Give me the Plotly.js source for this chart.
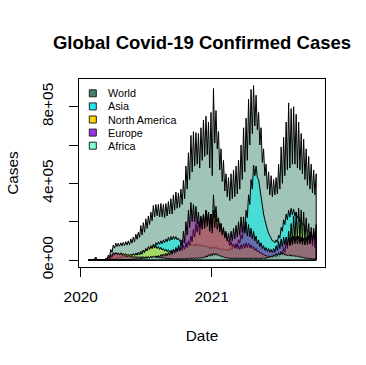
<!DOCTYPE html>
<html><head><meta charset="utf-8">
<script src="https://cdn.plot.ly/plotly-3.0.1.min.js"></script>
<style>html,body{margin:0;padding:0;background:#fff;} #chart{width:366px;height:365px;}</style>
</head><body><div id="chart"></div>
<script>
// Daily confirmed cases (thousands), sampled every 3.5 days from 2020-01-22 (alternating mid-week high / weekend low)
const startDate = '2020-01-22';
const stepDays = 3.5;
const seriesNames = ['World', 'Asia', 'North America', 'Europe', 'Africa'];

const world = [0.5,0.3, 2,1.7, 3.7,3, 15,2.5, 1,0.4, 1.5,1.1, 2.5,2, 8,5, 25,16, 55,40,
  78,62, 88,70, 88,72, 90,74, 92,76, 96,78, 100,80, 110,88, 120,95, 135,108,
  145,118, 180,130, 195,145, 215,165, 230,185, 250,205, 285,225, 290,230, 290,225, 295,225,
  290,220, 295,230, 305,240, 320,240, 340,260, 355,270, 350,275, 370,290, 415,320, 490,370,
  560,420, 650,460, 670,490, 665,500, 660,480, 690,520, 730,540, 750,550, 720,480, 770,440,
  895,610, 780,580, 670,470, 580,410, 520,360, 450,330, 430,310, 450,320, 470,330, 490,345,
  520,370, 600,420, 690,460, 740,520, 840,600, 890,660, 910,700, 860,680, 770,600, 690,510,
  580,440, 500,370, 460,340, 440,330, 420,340, 430,345, 500,370, 590,400, 640,440, 720,470,
  820,480, 790,500, 800,500, 760,480, 720,470, 660,450, 630,420, 580,390, 540,370, 500,350,
  470,340, 450];

const asia = [0.5,0.3, 2,1.7, 3.6,3, 15,2.5, 0.8,0.4, 0.9,0.5, 1.3,1, 1.5,1.2, 3,2.5, 5,4,
  8,7, 11,9, 14,12, 16,14, 18,15, 20,17, 24,20, 28,24, 32,27, 36,30,
  40,34, 45,38, 52,44, 56,48, 62,54, 70,60, 82,70, 90,78, 95,82, 100,85,
  105,90, 110,95, 118,100, 122,105, 125,108, 122,105, 115,100, 105,92, 100,88, 92,82,
  88,78, 85,75, 82,72, 85,74, 82,72, 80,70, 78,68, 75,65, 70,60, 68,58,
  70,60, 68,58, 62,54, 60,52, 58,50, 56,48, 58,50, 65,55, 72,62, 85,72,
  105,88, 130,110, 175,150, 260,220, 340,290, 420,370, 495,440, 490,430, 420,370, 320,280,
  240,210, 180,160, 140,125, 115,100, 100,90, 105,92, 130,115, 170,150, 210,185, 240,210,
  260,225, 270,235, 265,230, 250,220, 230,200, 210,185, 190,165, 170,150, 150,130, 135,118,
  120,105, 110];

const northAmerica = [0,0, 0,0, 0,0, 0,0, 0,0, 0,0, 0.1,0.05, 0.5,0.3, 5,3, 20,14,
  32,26, 38,30, 36,28, 38,28, 35,27, 33,25, 30,24, 30,24, 30,24, 32,25,
  34,26, 40,30, 50,38, 60,48, 70,56, 75,60, 78,62, 75,60, 70,55, 66,52,
  60,46, 56,43, 54,41, 50,38, 55,42, 58,45, 60,46, 65,50, 75,56, 85,65,
  100,75, 125,95, 160,120, 190,145, 200,130, 220,170, 240,185, 260,195, 250,170, 240,160,
  340,220, 280,200, 220,160, 190,140, 160,120, 130,100, 100,75, 95,70, 85,62, 80,58,
  75,55, 80,58, 85,62, 90,65, 88,62, 80,58, 70,50, 60,42, 50,35, 40,28,
  32,22, 25,16, 22,14, 20,12, 20,12, 22,12, 30,15, 45,25, 65,40, 95,60,
  150,80, 190,90, 230,100, 250,105, 270,100, 260,95, 250,100, 220,95, 190,85, 170,75,
  150,65, 140];

const europe = [0,0, 0,0, 0,0, 0,0, 0,0, 0.3,0.1, 1,0.6, 5,3, 15,10, 30,22,
  38,30, 38,30, 35,27, 33,25, 28,22, 25,18, 22,16, 20,15, 18,14, 18,13,
  17,13, 17,13, 17,13, 17,13, 17,12, 18,13, 20,14, 22,15, 24,16, 28,18,
  32,20, 35,22, 40,25, 48,30, 55,35, 65,42, 75,50, 100,65, 150,95, 200,130,
  260,170, 300,200, 290,200, 280,190, 250,170, 230,160, 240,165, 260,175, 250,150, 240,140,
  260,170, 240,160, 210,145, 190,130, 170,115, 150,100, 140,95, 150,100, 165,110, 180,120,
  200,130, 225,145, 225,140, 200,125, 185,120, 165,110, 150,100, 125,85, 105,70, 90,60,
  75,50, 65,45, 60,40, 55,38, 60,40, 75,50, 95,60, 110,70, 120,80, 120,80,
  115,75, 120,80, 125,85, 125,85, 125,85, 120,80, 115,78, 120,80, 130,85, 145,95,
  165,105, 185];

const africa = [0,0, 0,0, 0,0, 0,0, 0,0, 0,0, 0,0, 0,0, 0.1,0.05, 0.4,0.2,
  0.6,0.4, 0.8,0.5, 1,0.7, 1.3,0.9, 1.8,1.2, 2.5,1.8, 3,2.2, 3.8,2.8, 4.5,3.5, 6,4.5,
  7,5, 9,6.5, 10,7.5, 12,9, 15,11, 17,13, 19,14, 17,13, 15,11, 13,9,
  11,8, 9,7, 8,6, 7,5, 6.5,4.5, 6,4.5, 6,4.5, 6.5,4.5, 7,5, 8,5.5,
  9,6, 10,7, 11,7.5, 12,8, 12,8, 13,9, 16,11, 22,15, 28,19, 32,22,
  36,25, 34,24, 28,20, 22,16, 17,12, 13,9, 11,8, 10,7, 10,7, 10,7,
  10,7, 10,7, 10,7, 10,7, 10,7, 10,7, 10,7, 10,7, 9,6, 10,7,
  11,7.5, 13,9, 17,12, 22,15, 28,19, 33,22, 38,26, 40,28, 36,25, 30,21,
  28,20, 27,19, 25,18, 23,16, 20,14, 17,12, 13,9, 11,8, 9,6, 8,5.5,
  7,5, 6];

const xTickVals = ['2020-01-01', '2021-01-01'];
const xTickText = ['2020', '2021'];
const yTickVals = [0, 200000, 400000, 600000, 800000];
const yTickText = ['0e+00', '', '4e+05', '', '8e+05'];

const fillColors = ['rgba(65,137,113,0.5)', 'rgba(0,240,235,0.55)', 'rgba(255,215,0,0.5)', 'rgba(128,0,128,0.5)', 'rgba(127,255,212,0.5)'];
const swatchColors = ['#4b7d6b', '#22e5ee', '#ffd700', '#9b30ef', '#7fffd4'];

const allSeries = [world, asia, northAmerica, europe, africa];

function makeDates(n) {
  const t0 = Date.parse(startDate + 'T00:00:00Z');
  const out = [];
  for (let i = 0; i < n; i++) {
    out.push(new Date(t0 + i * stepDays * 86400000).toISOString().slice(0, 19).replace('T', ' '));
  }
  return out;
}

const traces = allSeries.map((s, k) => {
  const d = makeDates(s.length);
  const y = s.map(v => v * 1000);
  return {
    type: 'scatter', mode: 'lines', name: seriesNames[k],
    x: d.concat([d[d.length - 1], d[0]]),
    y: y.concat([0, 0]),
    fill: 'toself', fillcolor: fillColors[k],
    line: {color: 'black', width: 1},
    hoverinfo: 'skip', showlegend: false
  };
});

// plot box in pixels
const L = 79, R = 325, T = 79, B = 267;
const W = 366, H = 365;
const px2x = p => (p - L) / (R - L);
const px2y = p => (B - p) / (B - T);

const rowY = [93.3, 106.4, 119.5, 132.6, 145.7];
const shapes = [], annotations = [];
seriesNames.forEach((n, i) => {
  shapes.push({type: 'rect', xref: 'paper', yref: 'paper',
    x0: px2x(89.3), x1: px2x(96.3), y0: px2y(rowY[i] + 3.5), y1: px2y(rowY[i] - 3.5),
    fillcolor: swatchColors[i], line: {color: '#222', width: 1}});
  annotations.push({xref: 'paper', yref: 'paper', x: px2x(106), y: px2y(rowY[i]),
    xanchor: 'left', yanchor: 'middle', showarrow: false, text: n,
    font: {size: 10.8, color: 'black'}});
});

const axisCommon = {
  showline: true, mirror: true, linecolor: 'black', linewidth: 1,
  showgrid: false, zeroline: false, ticks: 'outside', ticklen: 9, tickwidth: 1, tickcolor: 'black',
  tickfont: {size: 15.4, color: 'black'}, automargin: false
};

const layout = {
  width: W, height: H,
  margin: {l: L, r: W - R, t: T, b: H - B, pad: 0},
  paper_bgcolor: 'white', plot_bgcolor: 'white',
  font: {family: 'Liberation Sans, Arial, sans-serif', color: 'black'},
  title: {text: 'Global Covid-19 Confirmed Cases', font: {size: 18.5, weight: 700, color: 'black'},
    xref: 'container', yref: 'container', x: 202 / W, xanchor: 'center', y: 1 - 43 / H, yanchor: 'middle'},
  xaxis: Object.assign({}, axisCommon, {
    type: 'date', range: ['2019-12-27 06:00', '2021-11-13 14:00'],
    tickmode: 'array', tickvals: xTickVals, ticktext: xTickText, tickangle: 0, ticklabelstandoff: 7,
    title: {text: 'Date', font: {size: 15.4, color: 'black'}, standoff: 25}
  }),
  yaxis: Object.assign({}, axisCommon, {
    range: [-36500, 944500],
    tickmode: 'array', tickvals: yTickVals, ticktext: yTickText, tickangle: -90, ticklabelstandoff: 10,
    title: {text: 'Cases', font: {size: 15.4, color: 'black'}, standoff: 16}
  }),
  shapes: shapes, annotations: annotations
};

Plotly.newPlot('chart', traces, layout, {staticPlot: true, displayModeBar: false});
</script>
</body></html>
